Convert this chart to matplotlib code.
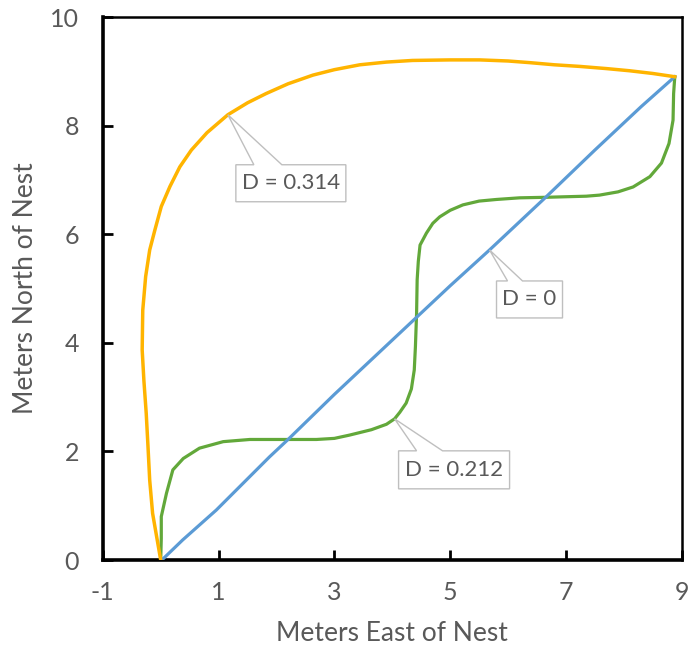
import matplotlib
matplotlib.use("Agg")
import matplotlib.pyplot as plt
from matplotlib.patches import Polygon
from matplotlib.transforms import IdentityTransform

# Trajets (mètres Est / Nord du nid)
orange_x = [0.0, -0.07, -0.14, -0.19, -0.22, -0.25, -0.29, -0.32, -0.31, -0.26, -0.19, -0.10,
            0.01, 0.16, 0.33, 0.53, 0.80, 1.16, 1.50, 1.82, 2.20, 2.63, 3.00, 3.44, 3.90,
            4.35, 5.00, 5.51, 6.00, 6.37, 6.80, 7.24, 7.70, 8.10, 8.50, 8.88]
orange_y = [0.0, 0.43, 0.86, 1.47, 2.10, 2.70, 3.30, 3.87, 4.60, 5.22, 5.71, 6.08,
            6.51, 6.88, 7.24, 7.55, 7.87, 8.20, 8.42, 8.59, 8.77, 8.93, 9.03, 9.12, 9.17,
            9.20, 9.21, 9.21, 9.19, 9.16, 9.12, 9.09, 9.05, 9.01, 8.96, 8.90]

green_x = [0.0, 0.01, 0.01, 0.10, 0.21, 0.39, 0.67, 1.08, 1.54, 1.88, 2.69, 3.00, 3.26,
           3.64, 3.90, 4.04, 4.13, 4.24, 4.33, 4.38, 4.40, 4.42, 4.43, 4.45, 4.48, 4.59,
           4.70, 4.82, 5.00, 5.22, 5.50, 5.80, 6.20, 6.66, 7.00, 7.35, 7.58, 7.90, 8.16,
           8.45, 8.65, 8.78, 8.85, 8.86, 8.88]
green_y = [0.0, 0.40, 0.80, 1.23, 1.66, 1.87, 2.06, 2.18, 2.22, 2.22, 2.22, 2.24, 2.30,
           2.40, 2.50, 2.60, 2.72, 2.89, 3.15, 3.50, 3.93, 4.54, 5.16, 5.50, 5.80, 6.02,
           6.20, 6.32, 6.44, 6.54, 6.61, 6.64, 6.67, 6.68, 6.69, 6.70, 6.72, 6.78, 6.87,
           7.06, 7.31, 7.67, 8.10, 8.59, 8.90]

blue_x = [0.02, 0.38, 0.96, 1.88, 2.20, 3.00, 4.13, 5.00, 5.68, 6.66, 7.50, 8.30, 8.88]
blue_y = [0.00, 0.37, 0.92, 1.90, 2.22, 3.05, 4.18, 5.05, 5.71, 6.69, 7.55, 8.35, 8.90]

labels = ["D = 0.314", "D = 0", "D = 0.212"]

x_ticks = [-1, 1, 3, 5, 7, 9]
y_ticks = [0, 2, 4, 6, 8, 10]

txt = "#595959"
plt.rcParams["font.family"] = ["Lato", "DejaVu Sans"]
plt.rcParams["axes.unicode_minus"] = False

fig = plt.figure(figsize=(6.9, 6.54), dpi=100)
ax = fig.add_axes([0.149, 0.1437, 0.839, 0.8303])

ax.plot(green_x, green_y, color="#62A83A", lw=2.3, zorder=2)
ax.plot(blue_x, blue_y, color="#5B9BD5", lw=2.3, zorder=3)
ax.plot(orange_x, orange_y, color="#FFB400", lw=2.5, zorder=4)

ax.set_xlim(-1, 9)
ax.set_ylim(0, 10)
ax.set_xticks(x_ticks)
ax.set_yticks(y_ticks)
ax.tick_params(direction="in", length=7, width=2, colors="black", labelcolor=txt,
               labelsize=18)
ax.tick_params(axis="x", pad=15)
ax.tick_params(axis="y", pad=17)

for s in ["left", "bottom"]:
    ax.spines[s].set_linewidth(2.6)
for s in ["top", "right"]:
    ax.spines[s].set_linewidth(1.8)

ax.set_xlabel("Meters East of Nest", fontsize=19, color=txt, labelpad=12)
ax.set_ylabel("Meters North of Nest", fontsize=19, color=txt, labelpad=9)

# bulles de texte : point d'ancrage + forme (pixels : gauche, droite, haut, bas, base du coin)
callouts = [
    (labels[0], orange_x[17], orange_y[17], (8, 118, 50, 87, 26, 54)),
    (labels[1], blue_x[8], blue_y[8], (7, 73, 31, 68, 18, 33)),
    (labels[2], green_x[15], green_y[15], (4, 115, 32, 70, 22, 48)),
]
for lab, px, py, (l, r, t, b, w1, w2) in callouts:
    x0, y0 = ax.transData.transform((px, py))
    pts = [(0, 0), (w2, t), (r, t), (r, b), (l, b), (l, t), (w1, t)]
    verts = [(x0 + dx, y0 - dy) for dx, dy in pts]
    ax.add_patch(Polygon(verts, closed=True, fc="white", ec="#BFBFBF", lw=1,
                         transform=IdentityTransform(), zorder=5))
    cx, cy = x0 + (l + r) / 2, y0 - (t + b) / 2
    ax.text(cx, cy, lab, transform=IdentityTransform(), ha="center", va="center",
            fontsize=16, color=txt, zorder=6)

fig.savefig("out.png", dpi=100)
